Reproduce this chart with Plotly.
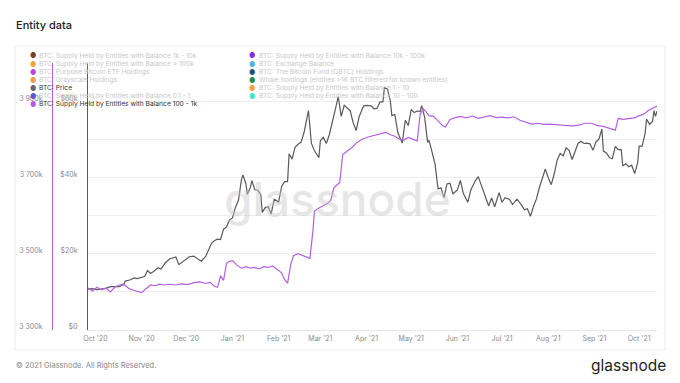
import plotly.graph_objects as go

# ---------------- data ----------------
price_dates = [
"2020-09-26","2020-09-29","2020-10-02","2020-10-05","2020-10-08","2020-10-11","2020-10-14","2020-10-17",
"2020-10-20","2020-10-21","2020-10-24","2020-10-27","2020-10-29","2020-11-01","2020-11-03","2020-11-05",
"2020-11-07","2020-11-09","2020-11-12","2020-11-14","2020-11-17","2020-11-20","2020-11-24","2020-11-26",
"2020-11-28","2020-12-01","2020-12-03","2020-12-06","2020-12-09","2020-12-11","2020-12-14","2020-12-16",
"2020-12-18","2020-12-20","2020-12-22","2020-12-24","2020-12-26","2020-12-28","2020-12-30","2021-01-01",
"2021-01-03","2021-01-05","2021-01-07","2021-01-08","2021-01-10","2021-01-11","2021-01-13","2021-01-14",
"2021-01-16","2021-01-18","2021-01-20","2021-01-21","2021-01-23","2021-01-25","2021-01-27","2021-01-29",
"2021-02-01","2021-02-03","2021-02-05","2021-02-07","2021-02-08","2021-02-10","2021-02-12","2021-02-14",
"2021-02-16","2021-02-18","2021-02-20","2021-02-21","2021-02-23","2021-02-25","2021-02-28","2021-03-01",
"2021-03-03","2021-03-05","2021-03-07","2021-03-09","2021-03-11","2021-03-13","2021-03-15","2021-03-17",
"2021-03-19","2021-03-21","2021-03-23","2021-03-25","2021-03-27","2021-03-30","2021-04-01","2021-04-04",
"2021-04-06","2021-04-08","2021-04-10","2021-04-12","2021-04-13","2021-04-15","2021-04-17","2021-04-18",
"2021-04-20","2021-04-22","2021-04-25","2021-04-27","2021-04-29","2021-05-01","2021-05-03","2021-05-05",
"2021-05-07","2021-05-08","2021-05-10","2021-05-12","2021-05-13","2021-05-15","2021-05-17","2021-05-19",
"2021-05-21","2021-05-23","2021-05-25","2021-05-27","2021-05-29","2021-06-01","2021-06-03","2021-06-05",
"2021-06-08","2021-06-10","2021-06-13","2021-06-15","2021-06-17","2021-06-19","2021-06-22","2021-06-24",
"2021-06-26","2021-06-29","2021-07-01","2021-07-03","2021-07-06","2021-07-08","2021-07-11","2021-07-14",
"2021-07-16","2021-07-18","2021-07-20","2021-07-22","2021-07-24","2021-07-26","2021-07-28","2021-07-30",
"2021-08-01","2021-08-03","2021-08-05","2021-08-07","2021-08-09","2021-08-11","2021-08-13","2021-08-15",
"2021-08-17","2021-08-19","2021-08-21","2021-08-23","2021-08-25","2021-08-27","2021-08-29","2021-08-31",
"2021-09-02","2021-09-04","2021-09-06","2021-09-07","2021-09-09","2021-09-11","2021-09-13","2021-09-15",
"2021-09-17","2021-09-19","2021-09-20","2021-09-22","2021-09-24","2021-09-26","2021-09-28","2021-09-30",
"2021-10-01","2021-10-03","2021-10-05","2021-10-06","2021-10-08","2021-10-10","2021-10-11","2021-10-12",
"2021-10-13"]
price_values = [
10730,10840,10570,10790,10930,11380,11430,11360,
11920,12820,13120,13650,13460,13740,14000,15590,
14830,15330,16310,15960,17650,18670,19150,17140,
17730,18790,19200,19370,18540,18050,19270,21310,
22800,23480,23820,23730,26440,27040,28840,29370,
32130,33990,39370,40670,38350,35570,37390,39160,
36770,36630,35510,30820,32080,32290,30430,34280,
33540,37620,38900,38900,46200,44800,47900,48700,
49200,51700,56000,57500,48900,47000,45200,49600,
50500,48900,51200,54900,57800,61200,56000,58900,
58300,57500,54400,52300,55900,58700,58900,58800,
58000,58100,59800,59800,63500,63200,60000,56200,
56500,51700,49000,55000,53600,57800,57000,57400,
57300,58800,55800,49200,49700,46700,43500,37000,
37300,34700,38300,38500,35700,36700,39200,35800,
33500,36700,39100,40200,38100,35500,32500,34600,
32300,36000,33500,34700,34200,32900,34300,32800,
31500,31800,29800,32300,34300,37300,40000,42200,
39900,38100,40900,44600,46300,45600,47800,47100,
44700,46700,48900,49500,48900,49000,48800,47100,
49300,50000,52700,46900,46400,45200,44900,48100,
47300,47300,43000,43600,42800,43200,41000,43800,
48200,48200,51500,55300,53900,54700,57500,56000,
57400]

supply_dates = [
"2020-09-26","2020-09-29","2020-10-02","2020-10-05","2020-10-08","2020-10-11","2020-10-14","2020-10-17",
"2020-10-20","2020-10-23","2020-10-26","2020-10-29","2020-11-01","2020-11-04","2020-11-07","2020-11-10",
"2020-11-13","2020-11-16","2020-11-20","2020-11-24","2020-11-28","2020-12-02","2020-12-06","2020-12-10",
"2020-12-14","2020-12-17","2020-12-20","2020-12-22","2020-12-24","2020-12-26","2020-12-28","2020-12-30",
"2021-01-01","2021-01-04","2021-01-07","2021-01-10","2021-01-13","2021-01-16","2021-01-19","2021-01-22",
"2021-01-25","2021-01-28","2021-01-31","2021-02-03","2021-02-05","2021-02-07","2021-02-09","2021-02-11",
"2021-02-14","2021-02-17","2021-02-20","2021-02-22","2021-02-24","2021-02-25","2021-02-28","2021-03-03",
"2021-03-06","2021-03-08","2021-03-10","2021-03-12","2021-03-14","2021-03-16","2021-03-19","2021-03-22",
"2021-03-25","2021-03-29","2021-04-02","2021-04-06","2021-04-10","2021-04-14","2021-04-17","2021-04-20",
"2021-04-23","2021-04-26","2021-04-29","2021-05-02","2021-05-05","2021-05-07","2021-05-09","2021-05-11",
"2021-05-13","2021-05-16","2021-05-19","2021-05-22","2021-05-24","2021-05-27","2021-05-30","2021-06-03",
"2021-06-07","2021-06-11","2021-06-15","2021-06-19","2021-06-23","2021-06-27","2021-07-01","2021-07-05",
"2021-07-09","2021-07-13","2021-07-17","2021-07-21","2021-07-25","2021-07-29","2021-08-02","2021-08-06",
"2021-08-10","2021-08-14","2021-08-18","2021-08-22","2021-08-26","2021-08-30","2021-09-03","2021-09-07",
"2021-09-10","2021-09-13","2021-09-15","2021-09-17","2021-09-20","2021-09-24","2021-09-28","2021-10-01",
"2021-10-04","2021-10-07","2021-10-10","2021-10-13"]
supply_values_k = [
3410,3402,3412,3405,3410,3400,3412,3418,
3420,3410,3405,3402,3398,3408,3418,3416,
3420,3418,3420,3418,3421,3419,3424,3426,
3422,3425,3414,3412,3442,3430,3475,3480,
3482,3470,3462,3466,3462,3464,3460,3466,
3464,3468,3460,3450,3432,3423,3470,3495,
3500,3496,3492,3488,3560,3612,3620,3625,
3632,3640,3672,3680,3686,3760,3768,3778,
3790,3800,3806,3810,3816,3818,3812,3808,
3800,3798,3805,3800,3796,3865,3880,3872,
3862,3860,3848,3836,3832,3852,3856,3860,
3856,3861,3855,3859,3862,3857,3858,3856,
3859,3850,3846,3840,3842,3839,3840,3838,
3837,3836,3835,3838,3842,3842,3836,3834,
3830,3826,3824,3855,3852,3854,3856,3862,
3866,3875,3882,3887]
supply_values = [v * 1000 for v in supply_values_k]

price_ticks = [0, 20000, 40000, 60000]
price_tick_text = ["$0", "$20k", "$40k", "$60k"]
supply_ticks = [3300000, 3500000, 3700000, 3900000]
supply_tick_text = ["3 300k", "3 500k", "3 700k", "3 900k"]

legend_left = [
    "BTC: Supply Held by Entities with Balance 1k - 10k",
    "BTC: Supply Held by Entities with Balance > 100k",
    "BTC: Purpose Bitcoin ETF Holdings",
    "BTC: Grayscale Holdings",
    "BTC: Price",
    "BTC: Supply Held by Entities with Balance 0.1 - 1",
    "BTC: Supply Held by Entities with Balance 100 - 1k",
]
legend_left_colors = ["#7a3d22", "#f0a33c", "#b847d6", "#e9a04c", "#666666", "#5b58d6", "#b35ce3"]
legend_left_active = [False, False, False, False, True, False, True]
legend_right = [
    "BTC: Supply Held by Entities with Balance 10k - 100k",
    "BTC: Exchange Balance",
    "BTC: The Bitcoin Fund (QBTC) Holdings",
    "Whale holdings (entities >1K BTC filtered for known entities)",
    "BTC: Supply Held by Entities with Balance 1 - 10",
    "BTC: Supply Held by Entities with Balance 10 - 100",
]
legend_right_colors = ["#8a2be2", "#4db3e2", "#25507a", "#1c8f4c", "#f7a03a", "#3de8c6"]

# ---------------- layout helpers ----------------
W, H = 680, 383
L, R, T, B = 20, 23, 63, 53
PW = W - L - R
PH = H - T - B


def px(x):
    return (x - L) / PW


def py(y):
    return (H - B - y) / PH


PRICE_COLOR = "#5a5a5a"
SUPPLY_COLOR = "#b45fe2"
FONT = "Inter, Roboto, sans-serif"

fig = go.Figure()
fig.add_trace(go.Scatter(x=price_dates, y=price_values, mode="lines",
                         line=dict(color=PRICE_COLOR, width=1.2), yaxis="y", showlegend=False))
fig.add_trace(go.Scatter(x=supply_dates, y=supply_values, mode="lines",
                         line=dict(color=SUPPLY_COLOR, width=1.2), yaxis="y2", showlegend=False))

annotations = []
annotations.append(dict(text="Entity data", x=px(14), y=py(25), xref="paper", yref="paper",
                        xanchor="left", yanchor="middle", showarrow=False,
                        font=dict(family=FONT, size=11, color="#222222", weight=500)))
annotations.append(dict(text="© 2021 Glassnode. All Rights Reserved.", x=px(14), y=py(366),
                        xref="paper", yref="paper", xanchor="left", yanchor="middle", showarrow=False,
                        font=dict(family=FONT, size=7.5, color="#888888")))
annotations.append(dict(text="glassnode", x=px(668), y=py(365), xref="paper", yref="paper",
                        xanchor="right", yanchor="middle", showarrow=False,
                        font=dict(family=FONT, size=15.5, color="#1e1e1e")))
annotations.append(dict(text="glassnode", x=px(337), y=py(199), xref="paper", yref="paper",
                        xanchor="center", yanchor="middle", showarrow=False,
                        font=dict(family=FONT, size=46, color="rgba(200,200,200,0.45)", weight=500)))

row_y = [56, 64, 72, 80, 88, 96, 104]
LEG_SIZE = 6.7
for i, (t, c, a) in enumerate(zip(legend_left, legend_left_colors, legend_left_active)):
    annotations.append(dict(text="●", x=px(32.7), y=py(row_y[i]), xref="paper", yref="paper",
                            xanchor="center", yanchor="middle", showarrow=False,
                            font=dict(family=FONT, size=7, color=c)))
    annotations.append(dict(text=t, x=px(37), y=py(row_y[i]), xref="paper", yref="paper",
                            xanchor="left", yanchor="middle", showarrow=False,
                            font=dict(family=FONT, size=LEG_SIZE, color="#333333" if a else "#c8c8c8")))
for i, (t, c) in enumerate(zip(legend_right, legend_right_colors)):
    annotations.append(dict(text="●", x=px(251.7), y=py(row_y[i]), xref="paper", yref="paper",
                            xanchor="center", yanchor="middle", showarrow=False,
                            font=dict(family=FONT, size=7, color=c)))
    annotations.append(dict(text=t, x=px(256.5), y=py(row_y[i]), xref="paper", yref="paper",
                            xanchor="left", yanchor="middle", showarrow=False,
                            font=dict(family=FONT, size=LEG_SIZE, color="#c8c8c8")))

shapes = [dict(type="rect", xref="paper", yref="paper", x0=px(15), x1=px(665), y0=py(350), y1=py(46),
               line=dict(color="#ebebeb", width=1), fillcolor="rgba(0,0,0,0)", layer="below")]

tick_font = dict(family=FONT, size=7, color="#8a8a8a")

fig.update_layout(
    width=W, height=H,
    margin=dict(l=L, r=R, t=T, b=B),
    paper_bgcolor="white", plot_bgcolor="white",
    showlegend=False,
    hovermode=False,
    annotations=annotations,
    shapes=shapes,
    xaxis=dict(domain=[px(88), 1], range=["2020-09-26", "2021-10-13"], type="date",
               dtick="M1", tick0="2020-10-01", tickformat="%b '%y", tickfont=tick_font,
               showgrid=False, showline=True, linecolor="#e8e8e8", linewidth=1, ticks="",
               ticklabelstandoff=2, zeroline=False),
    yaxis=dict(range=[0, 70000], tickvals=price_ticks, ticktext=price_tick_text, tickfont=tick_font,
               showline=True, linecolor=PRICE_COLOR, linewidth=1.2, gridcolor="#eeeeee",
               minor=dict(dtick=10000, tick0=0, showgrid=True, gridcolor="#eeeeee"),
               ticks="", ticklabelstandoff=8, ticklabelshift=-3, zeroline=False),
    yaxis2=dict(range=[3300000, 4000000], tickvals=supply_ticks, ticktext=supply_tick_text,
                tickfont=tick_font, overlaying="y", side="left", anchor="free", position=px(52),
                showline=True, linecolor=SUPPLY_COLOR, linewidth=1.2, showgrid=False,
                ticks="", ticklabelstandoff=8, ticklabelshift=-3, zeroline=False),
)

fig.write_html("out.html", config={"displayModeBar": False},
               post_script="document.body.style.margin='0';")
